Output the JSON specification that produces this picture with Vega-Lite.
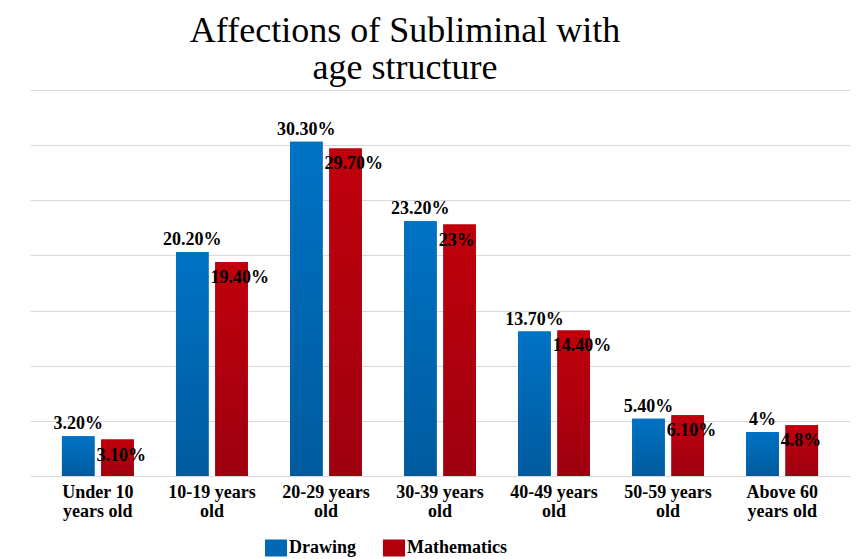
{
  "$schema": "https://vega.github.io/schema/vega-lite/v6.json",
  "width": 820,
  "height": 386,
  "autosize": {"type": "none"},
  "padding": {"left": 30, "top": 90, "right": 17, "bottom": 83},
  "background": "white",
  "title": {
    "text": ["Affections of Subliminal with", "age structure"],
    "font": "Liberation Serif",
    "fontSize": 36,
    "fontWeight": "normal",
    "lineHeight": 37,
    "color": "black",
    "anchor": "middle",
    "dx": -35,
    "offset": 3
  },
  "config": {
    "view": {"stroke": null},
    "axis": {"labelFont": "Liberation Serif", "titleFont": "Liberation Serif"}
  },
  "data": {
    "values": [
      {"age": "Under 10 years old", "subject": "Drawing", "value": 3.6, "label": "3.20%"},
      {"age": "Under 10 years old", "subject": "Mathematics", "value": 3.3, "label": "3.10%"},
      {"age": "10-19 years old", "subject": "Drawing", "value": 20.3, "label": "20.20%"},
      {"age": "10-19 years old", "subject": "Mathematics", "value": 19.4, "label": "19.40%"},
      {"age": "20-29 years old", "subject": "Drawing", "value": 30.3, "label": "30.30%"},
      {"age": "20-29 years old", "subject": "Mathematics", "value": 29.7, "label": "29.70%"},
      {"age": "30-39 years old", "subject": "Drawing", "value": 23.1, "label": "23.20%"},
      {"age": "30-39 years old", "subject": "Mathematics", "value": 22.8, "label": "23%"},
      {"age": "40-49 years old", "subject": "Drawing", "value": 13.1, "label": "13.70%"},
      {"age": "40-49 years old", "subject": "Mathematics", "value": 13.2, "label": "14.40%"},
      {"age": "50-59 years old", "subject": "Drawing", "value": 5.2, "label": "5.40%"},
      {"age": "50-59 years old", "subject": "Mathematics", "value": 5.5, "label": "6.10%"},
      {"age": "Above 60 years old", "subject": "Drawing", "value": 4.0, "label": "4%"},
      {"age": "Above 60 years old", "subject": "Mathematics", "value": 4.6, "label": "4.8%"}
    ]
  },
  "encoding": {
    "x": {
      "field": "age",
      "type": "nominal",
      "sort": null,
      "scale": {"paddingInner": 0.37, "paddingOuter": 0.28},
      "axis": {
        "title": null,
        "domain": false,
        "ticks": false,
        "labelAngle": 0,
        "labelFont": "Liberation Serif",
        "labelFontSize": 18,
        "labelFontWeight": "bold",
        "labelColor": "black",
        "labelLineHeight": 19,
        "labelPadding": 7,
        "labelBaseline": "top",
        "labelExpr": "datum.label == 'Under 10 years old' ? ['Under 10', 'years old'] : datum.label == 'Above 60 years old' ? ['Above 60', 'years old'] : [replace(datum.label, ' old', ''), 'old']"
      }
    },
    "xOffset": {
      "field": "subject",
      "type": "nominal",
      "scale": {"paddingInner": 0.17, "paddingOuter": 0}
    },
    "y": {
      "field": "value",
      "type": "quantitative",
      "scale": {"domain": [0, 35], "nice": false},
      "axis": {
        "title": null,
        "labels": false,
        "ticks": false,
        "domain": false,
        "values": [0, 5, 10, 15, 20, 25, 30, 35],
        "gridColor": "#d9d9d9",
        "gridWidth": 1.2
      }
    }
  },
  "layer": [
    {
      "mark": {"type": "bar"},
      "encoding": {
        "color": {
          "field": "subject",
          "type": "nominal",
          "scale": {"domain": ["Drawing", "Mathematics"], "range": ["#0068B4", "#B0000E"]},
          "legend": {
            "title": null,
            "orient": "none",
            "direction": "horizontal",
            "legendX": 237,
            "legendY": 449,
            "padding": 0,
            "symbolType": "M-1.3,-1H1.3V1H-1.3Z",
            "symbolSize": 289,
            "symbolStrokeWidth": 0,
            "symbolOpacity": 1,
            "labelFont": "Liberation Serif",
            "labelFontSize": 18,
            "labelFontWeight": "bold",
            "labelColor": "black",
            "labelOffset": 4,
            "columnPadding": 26
          }
        }
      }
    },
    {
      "mark": {"type": "bar"},
      "encoding": {
        "fill": {
          "condition": {
            "test": "datum.subject === 'Drawing'",
            "value": {"gradient": "linear", "x1": 0, "y1": 0, "x2": 0, "y2": 1, "stops": [{"offset": 0, "color": "#0072C4"}, {"offset": 1, "color": "#005B9E"}]}
          },
          "value": {"gradient": "linear", "x1": 0, "y1": 0, "x2": 0, "y2": 1, "stops": [{"offset": 0, "color": "#C0000C"}, {"offset": 1, "color": "#9E0010"}]}
        }
      }
    },
    {
      "transform": [{"filter": "datum.subject === 'Drawing'"}],
      "mark": {"type": "text", "baseline": "bottom", "dy": -3, "font": "Liberation Serif", "fontSize": 18, "fontWeight": "bold", "color": "black"},
      "encoding": {"text": {"field": "label"}}
    },
    {
      "transform": [{"filter": "datum.subject === 'Mathematics'"}],
      "mark": {"type": "text", "baseline": "top", "dy": 7, "align": "left", "dx": -21, "font": "Liberation Serif", "fontSize": 18, "fontWeight": "bold", "color": "black"},
      "encoding": {"text": {"field": "label"}}
    }
  ]
}
